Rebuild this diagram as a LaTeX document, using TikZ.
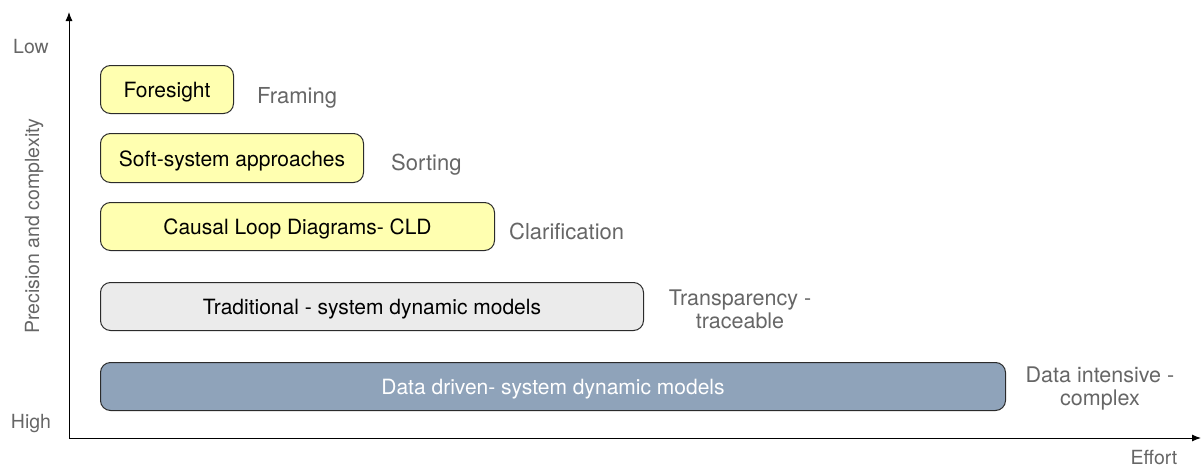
\documentclass[tikz,border=0pt]{standalone}
\usepackage{fontspec}
\setmainfont{TeX Gyre Heros}
\usetikzlibrary{arrows.meta}
\definecolor{boxyellow}{HTML}{FFFFB0}
\definecolor{boxgray}{HTML}{EBEBEB}
\definecolor{boxblue}{HTML}{8FA3BA}
\definecolor{labelgray}{HTML}{666666}
\definecolor{edgegray}{HTML}{2B2B2B}
\begin{document}
\begin{tikzpicture}[x=1pt,y=-1pt,
  box/.style={draw=edgegray, line width=1pt, rounded corners=10pt, inner sep=0pt, text height=18pt, text depth=2pt, font=\fontsize{21}{25}\selectfont},
  lbl/.style={text=labelgray, font=\fontsize{22}{25}\selectfont, align=center, inner sep=0pt, text height=18pt, text depth=2pt},
  lbltwo/.style={text=labelgray, font=\fontsize{21.5}{23}\selectfont, align=center, inner sep=0pt},
  axlbl/.style={text=labelgray, font=\fontsize{19.5}{23}\selectfont, inner sep=0pt, text height=16pt, text depth=2pt},
  axis/.style={line width=1pt, -{Latex[length=9pt,width=7pt]}}]
\useasboundingbox (0,0) rectangle (1202,466);
\coordinate (O) at (69,438);
\coordinate (ytop) at (69,12);
\coordinate (xend) at (1201,438);
\draw[axis] (O) -- (ytop);
\draw[axis] (O) -- (xend);
\node[box, fill=boxyellow, minimum width=133pt, minimum height=48pt, anchor=north west] (fore) at (100,65) {Foresight};
\node[box, fill=boxyellow, minimum width=263pt, minimum height=49pt, anchor=north west] (soft) at (100,133) {Soft-system approaches};
\node[box, fill=boxyellow, minimum width=394pt, minimum height=48pt, anchor=north west] (cld) at (100,202) {Causal Loop Diagrams- CLD};
\node[box, fill=boxgray, minimum width=543pt, minimum height=48pt, anchor=north west] (trad) at (100,282) {Traditional - system dynamic models};
\node[box, fill=boxblue, text=white, minimum width=905pt, minimum height=48pt, anchor=north west] (data) at (100,362) {Data driven- system dynamic models};
\node[lbl, anchor=west] (framing) at (257,95) {Framing};
\node[lbl, anchor=west] (sorting) at (391,162) {Sorting};
\node[lbl, anchor=west] (clar) at (509,231) {Clarification};
\node[lbltwo] (transp) at (740,309) {Transparency -\\traceable};
\node[lbltwo] (dint) at (1100,389) {Data intensive -\\complex};
\node[axlbl] (low) at (31,46.5) {Low};
\node[axlbl] (high) at (31,421) {High};
\node[axlbl, rotate=90] (prec) at (32,226) {Precision and complexity};
\node[axlbl] (effort) at (1154,457) {Effort};
\end{tikzpicture}
\end{document}
